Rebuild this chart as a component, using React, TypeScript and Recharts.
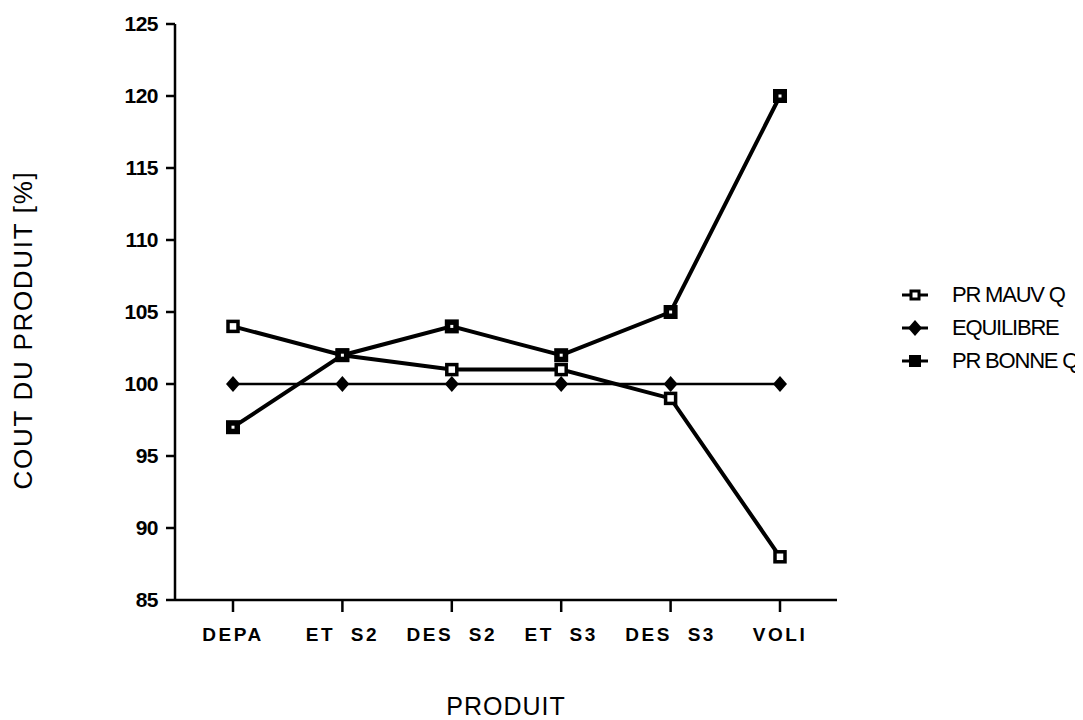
import React from 'react';
import { LineChart, Line, XAxis, YAxis, Label } from 'recharts';

const categories = ['DEPA', 'ET S2', 'DES S2', 'ET S3', 'DES S3', 'VOLI'];
const mauvaiseQualite = [104, 102, 101, 101, 99, 88];
const equilibre = [100, 100, 100, 100, 100, 100];
const bonneQualite = [97, 102, 104, 102, 105, 120];
const yTicks = [85, 90, 95, 100, 105, 110, 115, 120, 125];

const data = categories.map((name, i) => ({
  name,
  mauv: mauvaiseQualite[i],
  equi: equilibre[i],
  bonne: bonneQualite[i],
}));

const FONT = '"Liberation Sans", Arial, Helvetica, sans-serif';

const HollowSquare = (props: any) => {
  const { cx, cy } = props;
  if (cx == null || cy == null) return null;
  return <rect x={cx - 5} y={cy - 5} width={10} height={10} fill="#fff" stroke="#000" strokeWidth={3.5} />;
};

const FilledSquare = (props: any) => {
  const { cx, cy } = props;
  if (cx == null || cy == null) return null;
  return (
    <g>
      <rect x={cx - 7} y={cy - 7} width={14} height={14} fill="#000" />
      <rect x={cx - 1.5} y={cy - 1.5} width={3} height={3} fill="#fff" />
    </g>
  );
};

const Diamond = (props: any) => {
  const { cx, cy } = props;
  if (cx == null || cy == null) return null;
  return <path d={`M${cx},${cy - 8} L${cx + 7},${cy} L${cx},${cy + 8} L${cx - 7},${cy} Z`} fill="#000" />;
};

const XTick = (props: any) => {
  const { x, y, payload } = props;
  return (
    <text
      x={x}
      y={y + 27}
      textAnchor="middle"
      fontFamily={FONT}
      fontWeight="bold"
      fontSize={19}
      letterSpacing={2.5}
      wordSpacing={8}
      fill="#000"
    >
      {payload.value}
    </text>
  );
};

const legendItems = [
  { label: 'PR MAUV Q', kind: 'hollow' },
  { label: 'EQUILIBRE', kind: 'diamond' },
  { label: 'PR BONNE Q', kind: 'filled' },
];

function LegendIcon({ kind }: { kind: string }) {
  return (
    <svg width={26} height={18} style={{ display: 'block' }}>
      <line x1={0} y1={9} x2={26} y2={9} stroke="#000" strokeWidth={3} />
      {kind === 'hollow' && <rect x={9} y={5} width={8} height={8} fill="#fff" stroke="#000" strokeWidth={3} />}
      {kind === 'filled' && <rect x={7} y={3} width={12} height={12} fill="#000" />}
      {kind === 'diamond' && <path d="M13,1 L20,9 L13,17 L6,9 Z" fill="#000" />}
    </svg>
  );
}

export default function App() {
  return (
    <div style={{ position: 'relative', width: 1075, height: 712, fontFamily: FONT }}>
      <LineChart
        width={1075}
        height={712}
        data={data}
        margin={{ top: 16, right: 246, left: 0, bottom: 0 }}
      >
        <XAxis
          dataKey="name"
          padding={{ left: 58, right: 57 }}
          tickSize={12}
          axisLine={{ stroke: '#000', strokeWidth: 2.5 }}
          tickLine={{ stroke: '#000', strokeWidth: 2.5 }}
          tick={<XTick />}
          interval={0}
          height={120}
        >
          <Label
            value="PRODUIT"
            position="insideBottom"
            offset={5}
            style={{ fontFamily: FONT, fontSize: 25, fill: '#000', letterSpacing: 1 }}
          />
        </XAxis>
        <YAxis
          type="number"
          domain={[85, 125]}
          ticks={yTicks}
          interval={0}
          width={167}
          tickSize={9}
          tickMargin={8}
          axisLine={{ stroke: '#000', strokeWidth: 2.5 }}
          tickLine={{ stroke: '#000', strokeWidth: 2.5 }}
          tick={{ fontFamily: FONT, fontWeight: 'bold', fontSize: 21, fill: '#000', letterSpacing: -0.5 }}
        >
          <Label
            value="COUT DU PRODUIT [%]"
            angle={-90}
            position="insideLeft"
            offset={15}
            dy={18}
            style={{ fontFamily: FONT, fontSize: 26, fill: '#000', letterSpacing: 1.7, textAnchor: 'middle' }}
          />
        </YAxis>
        <Line
          dataKey="equi"
          stroke="#000"
          strokeWidth={2.5}
          dot={<Diamond />}
          isAnimationActive={false}
        />
        <Line
          dataKey="mauv"
          stroke="#000"
          strokeWidth={4}
          dot={<HollowSquare />}
          isAnimationActive={false}
        />
        <Line
          dataKey="bonne"
          stroke="#000"
          strokeWidth={4}
          dot={<FilledSquare />}
          isAnimationActive={false}
        />
      </LineChart>
      <div style={{ position: 'absolute', left: 894, top: 276, display: 'flex', flexDirection: 'column', gap: 11 }}>
        {legendItems.map((it) => (
          <div key={it.label} style={{ display: 'flex', alignItems: 'center', height: 22 }}>
            <LegendIcon kind={it.kind} />
            <span style={{ marginLeft: 24, fontSize: 22, letterSpacing: -1.2, color: '#000' }}>{it.label}</span>
          </div>
        ))}
      </div>
    </div>
  );
}
